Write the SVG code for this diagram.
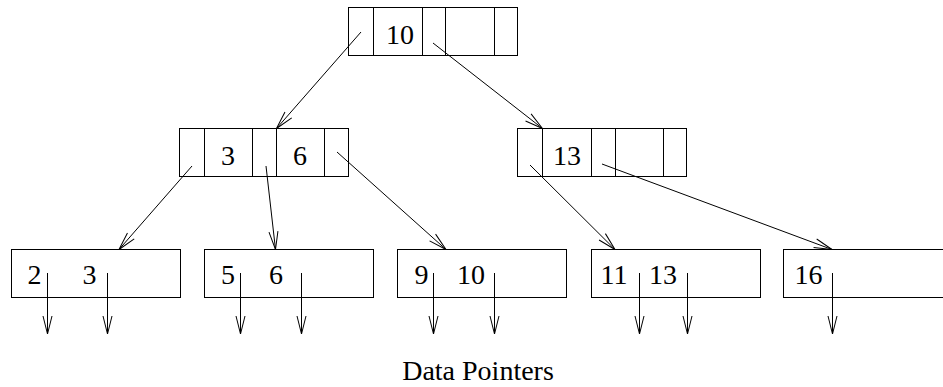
<svg xmlns="http://www.w3.org/2000/svg" width="943" height="387" viewBox="0 0 943 387">
<defs>
<marker id="ah" markerUnits="userSpaceOnUse" markerWidth="24" markerHeight="12" refX="0" refY="0" viewBox="-20 -6 22 12" orient="auto" overflow="visible">
<path d="M -18 -4.5 L 0 0 L -18 4.5" fill="none" stroke="#000" stroke-width="1"/>
</marker>
</defs>
<style>
.box{fill:#fff;stroke:#000;stroke-width:1}
.div{stroke:#000;stroke-width:1}
.t{font-family:"Liberation Serif","Times New Roman",serif;font-size:28px;fill:#000;text-anchor:middle}
.c{fill:none;stroke:#000;stroke-width:1;marker-end:url(#ah)}
</style>
<rect width="943" height="387" fill="#fff"/>
<g id="root">
<rect class="box" x="348.5" y="7.5" width="169" height="48"/>
<line class="div" x1="373.5" y1="7.5" x2="373.5" y2="55.5"/>
<line class="div" x1="422.5" y1="7.5" x2="422.5" y2="55.5"/>
<line class="div" x1="445.5" y1="7.5" x2="445.5" y2="55.5"/>
<line class="div" x1="494.5" y1="7.5" x2="494.5" y2="55.5"/>
<text class="t" x="400" y="44">10</text>
</g>
<g id="midLeft">
<rect class="box" x="179.5" y="128.5" width="169" height="48"/>
<line class="div" x1="204.5" y1="128.5" x2="204.5" y2="176.5"/>
<line class="div" x1="252.5" y1="128.5" x2="252.5" y2="176.5"/>
<line class="div" x1="276.5" y1="128.5" x2="276.5" y2="176.5"/>
<line class="div" x1="324.5" y1="128.5" x2="324.5" y2="176.5"/>
<text class="t" x="228" y="165">3</text>
<text class="t" x="300" y="165">6</text>
</g>
<g id="midRight">
<rect class="box" x="517.5" y="128.5" width="169" height="48"/>
<line class="div" x1="542.5" y1="128.5" x2="542.5" y2="176.5"/>
<line class="div" x1="591.5" y1="128.5" x2="591.5" y2="176.5"/>
<line class="div" x1="615.5" y1="128.5" x2="615.5" y2="176.5"/>
<line class="div" x1="663.5" y1="128.5" x2="663.5" y2="176.5"/>
<text class="t" x="567" y="165">13</text>
</g>
<g id="leaf1">
<rect class="box" x="11.5" y="249.5" width="169" height="48"/>
<text class="t" x="34.5" y="284">2</text>
<text class="t" x="89.5" y="284">3</text>
</g>
<g id="leaf2">
<rect class="box" x="204.5" y="249.5" width="169" height="48"/>
<text class="t" x="228" y="284">5</text>
<text class="t" x="276" y="284">6</text>
</g>
<g id="leaf3">
<rect class="box" x="397.5" y="249.5" width="169" height="48"/>
<text class="t" x="421.5" y="284">9</text>
<text class="t" x="471" y="284">10</text>
</g>
<g id="leaf4">
<rect class="box" x="591.5" y="249.5" width="169" height="48"/>
<text class="t" x="614" y="284">11</text>
<text class="t" x="663" y="284">13</text>
</g>
<g id="leaf5">
<rect class="box" x="783.5" y="249.5" width="169" height="48"/>
<text class="t" x="808.5" y="284">16</text>
</g>
<g id="connectors">
<line class="c" x1="361" y1="32" x2="276.5" y2="128.5"/>
<line class="c" x1="433" y1="43" x2="542.5" y2="128.5"/>
<line class="c" x1="192" y1="166" x2="119" y2="249.5"/>
<line class="c" x1="266" y1="166" x2="275.5" y2="249.5"/>
<line class="c" x1="337" y1="152" x2="446" y2="249.5"/>
<line class="c" x1="530" y1="165" x2="615" y2="249.5"/>
<line class="c" x1="602" y1="164" x2="832" y2="249.5"/>
<line class="c" x1="47.5" y1="273" x2="47.5" y2="334"/>
<line class="c" x1="107.5" y1="273" x2="107.5" y2="334"/>
<line class="c" x1="240.5" y1="273" x2="240.5" y2="334"/>
<line class="c" x1="301.5" y1="273" x2="301.5" y2="334"/>
<line class="c" x1="433.5" y1="273" x2="433.5" y2="334"/>
<line class="c" x1="494.5" y1="273" x2="494.5" y2="334"/>
<line class="c" x1="639.5" y1="273" x2="639.5" y2="334"/>
<line class="c" x1="687.5" y1="273" x2="687.5" y2="334"/>
<line class="c" x1="832.5" y1="273" x2="832.5" y2="334"/>
</g>
<text class="t" x="478" y="380">Data Pointers</text>
</svg>
